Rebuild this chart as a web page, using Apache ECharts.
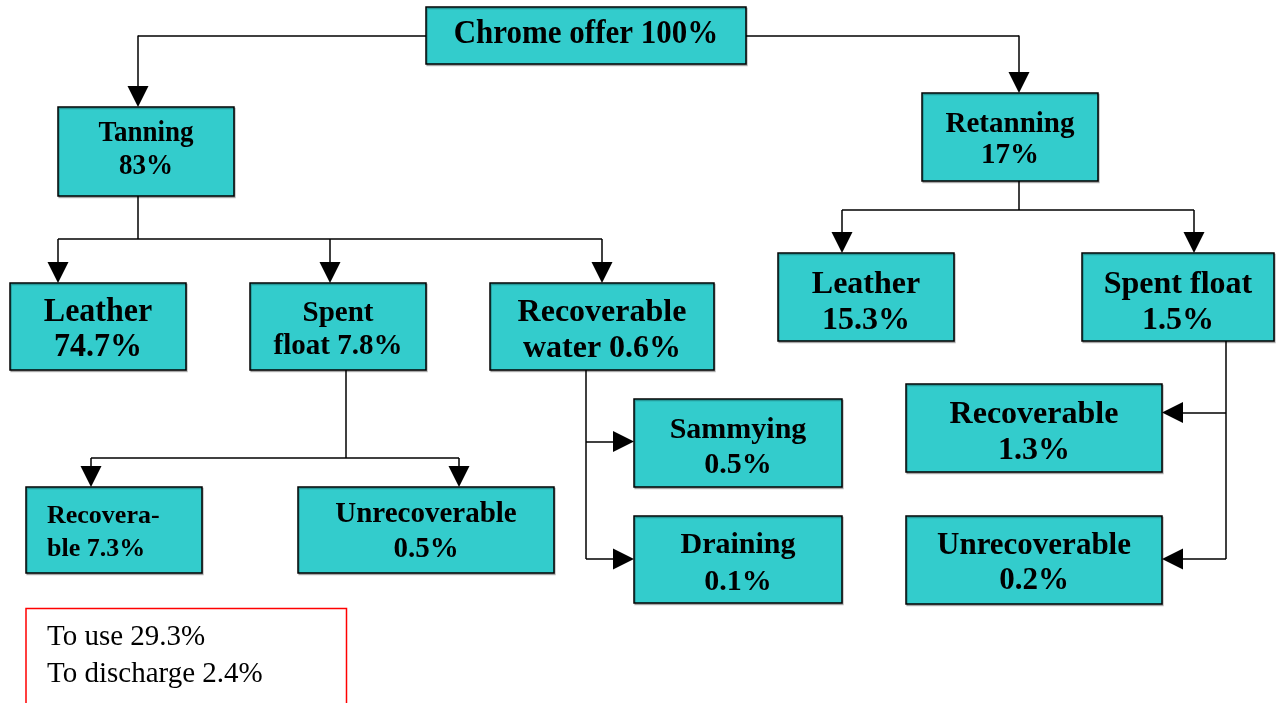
<!DOCTYPE html>
<html>
<head>
<meta charset="utf-8">
<title>Chrome offer balance</title>
<script src="https://cdn.jsdelivr.net/npm/echarts@6/dist/echarts.min.js"></script>
<style>
  html, body { margin: 0; padding: 0; background: #fff; }
  #chart { width: 1280px; height: 703px; }
</style>
</head>
<body>
<div id="chart"></div>
<script>
// box names (line breaks as in the original) and chrome share in %
const nodeNames = ['Chrome offer', 'Tanning\n', 'Retanning\n', 'Leather\n', 'Spent\nfloat', 'Recoverable\nwater',
  'Leather\n', 'Spent float\n', 'Recovera-\nble', 'Unrecoverable\n', 'Sammying\n', 'Draining\n',
  'Recoverable\n', 'Unrecoverable\n'];
const nodeShares = [100, 83, 17, 74.7, 7.8, 0.6, 15.3, 1.5, 7.3, 0.5, 0.5, 0.1, 1.3, 0.2];
const summaryNames = ['To use', 'To discharge'];
const summaryShares = [29.3, 2.4];

// layout on a 1280 x 703 page: box [x0, y0, x1, y1], font size, line height, text centre,
// sy = vertical stretch of the lettering in the source drawing
const boxLayout = [
  { rect: [426, 7, 746, 64], fs: 31, lh: 34, ty: 34, sy: 1.1 },
  { rect: [58, 107, 234, 196], fs: 27, lh: 30, ty: 150, sy: 1.07 },
  { rect: [922, 93, 1098, 181], fs: 29, lh: 30, ty: 140, sy: 1.04 },
  { rect: [10, 283, 186, 370], fs: 32, lh: 35, ty: 330, sy: 1.02 },
  { rect: [250, 283, 426, 370], fs: 29, lh: 33, ty: 330.5 },
  { rect: [490, 283, 714, 370], fs: 32, lh: 36, ty: 330.5 },
  { rect: [778, 253, 954, 341], fs: 32, lh: 36, ty: 302.5 },
  { rect: [1082, 253, 1274, 341], fs: 32, lh: 36, ty: 302.5 },
  { rect: [26, 487, 202, 573], fs: 26, lh: 33, ty: 533, tx: 47, align: 'left' },
  { rect: [298, 487, 554, 573], fs: 29, lh: 35, ty: 532.5 },
  { rect: [634, 399, 842, 487], fs: 30, lh: 35, ty: 448 },
  { rect: [634, 516, 842, 603], fs: 30, lh: 37, ty: 564 },
  { rect: [906, 384, 1162, 472], fs: 32, lh: 36, ty: 432.5 },
  { rect: [906, 516, 1162, 604], fs: 31, lh: 35, ty: 563.5 }
];
const summaryLayout = { rect: [26, 608.5, 346.5, 720], fs: 29, lh: 36.5, ty: 656, tx: 47 };

// connector paths: plain wires and wires that end in an arrow head
const wires = [
  [[426, 35.5], [138, 35.5]],
  [[746, 35.5], [1019, 35.5]],
  [[138, 196], [138, 239]],
  [[58, 239], [602, 239]],
  [[1019, 181], [1019, 210]],
  [[842, 210], [1194, 210]],
  [[346, 370], [346, 458]],
  [[91, 458], [459, 458]],
  [[586, 370], [586, 559]],
  [[1226, 341], [1226, 559]]
];
const arrows = [
  [[138, 35.5], [138, 107]],
  [[1019, 35.5], [1019, 93]],
  [[58, 239], [58, 283]],
  [[330, 239], [330, 283]],
  [[602, 239], [602, 283]],
  [[842, 210], [842, 253]],
  [[1194, 210], [1194, 253]],
  [[91, 458], [91, 487]],
  [[459, 458], [459, 487]],
  [[586, 441.5], [634, 441.5]],
  [[586, 559], [634, 559]],
  [[1226, 412.5], [1162, 412.5]],
  [[1226, 559], [1162, 559]]
];

const ARROW = 21;
const SERIF = '"Liberation Serif", "Times New Roman", serif';

// the triangle is centred on the line end, so stop the line half a head short of the box
function pullBack(from, to, d) {
  const dx = to[0] - from[0];
  const dy = to[1] - from[1];
  const len = Math.sqrt(dx * dx + dy * dy);
  return [to[0] - dx / len * d, to[1] - dy / len * d];
}

function nodeText(i) {
  const name = nodeNames[i];
  return name + (name.endsWith('\n') ? '' : ' ') + nodeShares[i] + '%';
}

const chart = echarts.init(document.getElementById('chart'));

chart.setOption({
  animation: false,
  backgroundColor: '#fff',
  grid: { left: 0, right: 0, top: 0, bottom: 0 },
  xAxis: { type: 'value', min: 0, max: 1280, show: false },
  yAxis: { type: 'value', min: 0, max: 703, inverse: true, show: false },
  series: [
    {
      type: 'lines',
      coordinateSystem: 'cartesian2d',
      z: 2,
      symbol: 'none',
      lineStyle: { color: '#000', width: 1.5, opacity: 1, curveness: 0 },
      data: wires.map(c => ({ coords: c }))
    },
    {
      type: 'lines',
      coordinateSystem: 'cartesian2d',
      z: 2,
      symbol: ['none', 'triangle'],
      symbolSize: ARROW,
      lineStyle: { color: '#000', width: 1.5, opacity: 1, curveness: 0 },
      data: arrows.map(c => ({ coords: [c[0], pullBack(c[0], c[1], ARROW / 2)] }))
    },
    {
      type: 'custom',
      coordinateSystem: 'cartesian2d',
      z: 3,
      encode: { x: [0, 2], y: [1, 3] },
      data: boxLayout.map((b, i) => [...b.rect, i]),
      renderItem(params, api) {
        const i = api.value(4);
        const lay = boxLayout[i];
        const p0 = api.coord([api.value(0), api.value(1)]);
        const p1 = api.coord([api.value(2), api.value(3)]);
        const tx = lay.tx != null ? lay.tx : (api.value(0) + api.value(2)) / 2;
        const pt = api.coord([tx, lay.ty]);
        return {
          type: 'group',
          children: [
            {
              type: 'rect',
              shape: { x: p0[0], y: p0[1], width: p1[0] - p0[0], height: p1[1] - p0[1] },
              style: {
                fill: '#33CCCC',
                stroke: '#000',
                lineWidth: 1.5,
                shadowColor: 'rgba(0,0,0,0.25)',
                shadowOffsetX: 1,
                shadowOffsetY: 1.5
              }
            },
            {
              type: 'text',
              x: pt[0],
              y: pt[1],
              scaleY: lay.sy || 1,
              style: {
                text: nodeText(i),
                fill: '#000',
                fontFamily: SERIF,
                fontWeight: 'bold',
                fontSize: lay.fs,
                lineHeight: lay.lh,
                align: lay.align || 'center',
                verticalAlign: 'middle'
              }
            }
          ]
        };
      }
    },
    {
      type: 'custom',
      coordinateSystem: 'cartesian2d',
      z: 3,
      encode: { x: [0, 2], y: [1, 3] },
      data: [summaryLayout.rect],
      renderItem(params, api) {
        const p0 = api.coord([api.value(0), api.value(1)]);
        const p1 = api.coord([api.value(2), api.value(3)]);
        const pt = api.coord([summaryLayout.tx, summaryLayout.ty]);
        const text = summaryNames.map((n, k) => n + ' ' + summaryShares[k] + '%').join('\n');
        return {
          type: 'group',
          children: [
            {
              type: 'rect',
              shape: { x: p0[0], y: p0[1], width: p1[0] - p0[0], height: p1[1] - p0[1] },
              style: { fill: 'none', stroke: '#FF0000', lineWidth: 1.5 }
            },
            {
              type: 'text',
              x: pt[0],
              y: pt[1],
              style: {
                text: text,
                fill: '#000',
                fontFamily: SERIF,
                fontSize: summaryLayout.fs,
                lineHeight: summaryLayout.lh,
                align: 'left',
                verticalAlign: 'middle'
              }
            }
          ]
        };
      }
    }
  ]
});
</script>
</body>
</html>
